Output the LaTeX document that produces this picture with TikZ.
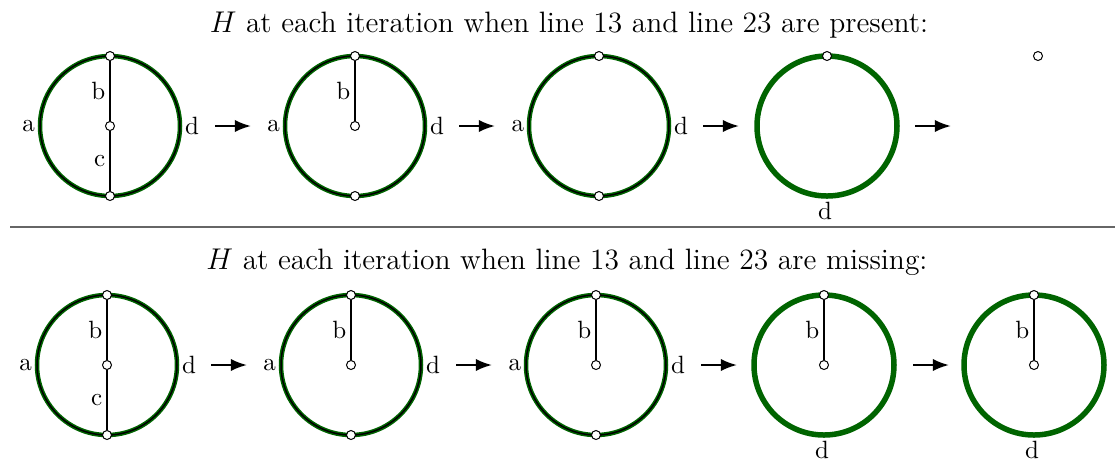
\documentclass[tikz,border=0pt]{standalone}
\usetikzlibrary{arrows.meta}
\definecolor{dkgreen}{RGB}{0,100,0}
\begin{document}
\begin{tikzpicture}[x=0.4pt,y=-0.4pt,
  ring/.style={circle,inner sep=0pt,minimum size=56pt,draw=black,line width=0.6pt,
    preaction={draw=dkgreen,line width=1.8pt}},
  gring/.style={circle,inner sep=0pt,minimum size=56pt,draw=dkgreen,line width=2.2pt},
  vtx/.style={circle,inner sep=0pt,minimum size=3.6pt,draw=black,fill=white,line width=0.4pt},
  edge/.style={draw=black,line width=0.8pt},
  lbl/.style={inner sep=1.5pt,font=\fontsize{10}{12}\selectfont},
  flow/.style={line width=0.9pt,-{Latex[length=6.5pt,width=5pt]}},
  title/.style={font=\fontsize{11.8}{14}\selectfont}]
\useasboundingbox (0,0) rectangle (1115,463);

% ---------- top row ----------
\node[title] (t1) at (569,25) {$H$ at each iteration when line 13 and line 23 are present:};

% circle 1
\node[ring] (p1) at (110,126) {};
\node[vtx] (p1t) at (110,56) {};
\node[vtx] (p1m) at (110,126) {};
\node[vtx] (p1b) at (110,196) {};
\draw[edge] (p1t) -- node[lbl,left] {b} (p1m);
\draw[edge] (p1m) -- node[lbl,left] {c} (p1b);
\node[lbl,left] (p1a) at (p1.west) {a};
\node[lbl,right] (p1d) at (p1.east) {d};

% circle 2
\node[ring] (p2) at (355,126) {};
\node[vtx] (p2t) at (355,56) {};
\node[vtx] (p2m) at (355,126) {};
\node[vtx] (p2b) at (355,196) {};
\draw[edge] (p2t) -- node[lbl,left] {b} (p2m);
\node[lbl,left] (p2a) at (p2.west) {a};
\node[lbl,right] (p2d) at (p2.east) {d};

% circle 3
\node[ring] (p3) at (599,126) {};
\node[vtx] (p3t) at (599,56) {};
\node[vtx] (p3b) at (599,196) {};
\node[lbl,left] (p3a) at (p3.west) {a};
\node[lbl,right] (p3d) at (p3.east) {d};

% circle 4
\node[gring] (p4) at (827,126) {};
\node[vtx] (p4t) at (827,56) {};
\node[lbl] (p4d) at (825,211) {d};

% lone vertex
\node[vtx] (p5t) at (1038,56) {};

% arrows
\coordinate (pa1s) at (215,126); \coordinate (pa1e) at (251,126);
\coordinate (pa2s) at (459,126); \coordinate (pa2e) at (495,126);
\coordinate (pa3s) at (703,126); \coordinate (pa3e) at (739,126);
\coordinate (pa4s) at (915,126); \coordinate (pa4e) at (951,126);
\draw[flow] (pa1s) -- (pa1e);
\draw[flow] (pa2s) -- (pa2e);
\draw[flow] (pa3s) -- (pa3e);
\draw[flow] (pa4s) -- (pa4e);

% separator
\coordinate (sepL) at (10,227); \coordinate (sepR) at (1115,227);
\draw[gray!80!black,line width=0.8pt] (sepL) -- (sepR);

% ---------- bottom row ----------
\node[title] (t2) at (567,262) {$H$ at each iteration when line 13 and line 23 are missing:};

% circle 1
\node[ring] (m1) at (107,365) {};
\node[vtx] (m1t) at (107,295) {};
\node[vtx] (m1m) at (107,365) {};
\node[vtx] (m1b) at (107,435) {};
\draw[edge] (m1t) -- node[lbl,left] {b} (m1m);
\draw[edge] (m1m) -- node[lbl,left] {c} (m1b);
\node[lbl,left] (m1a) at (m1.west) {a};
\node[lbl,right] (m1d) at (m1.east) {d};

% circle 2
\node[ring] (m2) at (351,365) {};
\node[vtx] (m2t) at (351,295) {};
\node[vtx] (m2m) at (351,365) {};
\node[vtx] (m2b) at (351,435) {};
\draw[edge] (m2t) -- node[lbl,left] {b} (m2m);
\node[lbl,left] (m2a) at (m2.west) {a};
\node[lbl,right] (m2d) at (m2.east) {d};

% circle 3
\node[ring] (m3) at (596,365) {};
\node[vtx] (m3t) at (596,295) {};
\node[vtx] (m3m) at (596,365) {};
\node[vtx] (m3b) at (596,435) {};
\draw[edge] (m3t) -- node[lbl,left] {b} (m3m);
\node[lbl,left] (m3a) at (m3.west) {a};
\node[lbl,right] (m3d) at (m3.east) {d};

% circle 4
\node[gring] (m4) at (824,365) {};
\node[vtx] (m4t) at (824,295) {};
\node[vtx] (m4m) at (824,365) {};
\draw[edge] (m4t) -- node[lbl,left] {b} (m4m);
\node[lbl] (m4d) at (822,450) {d};

% circle 5
\node[gring] (m5) at (1034,365) {};
\node[vtx] (m5t) at (1034,295) {};
\node[vtx] (m5m) at (1034,365) {};
\draw[edge] (m5t) -- node[lbl,left] {b} (m5m);
\node[lbl] (m5d) at (1032,450) {d};

% arrows
\coordinate (ma1s) at (211,365); \coordinate (ma1e) at (247,365);
\coordinate (ma2s) at (456,365); \coordinate (ma2e) at (492,365);
\coordinate (ma3s) at (701,365); \coordinate (ma3e) at (737,365);
\coordinate (ma4s) at (913,365); \coordinate (ma4e) at (949,365);
\draw[flow] (ma1s) -- (ma1e);
\draw[flow] (ma2s) -- (ma2e);
\draw[flow] (ma3s) -- (ma3e);
\draw[flow] (ma4s) -- (ma4e);
\end{tikzpicture}
\end{document}
